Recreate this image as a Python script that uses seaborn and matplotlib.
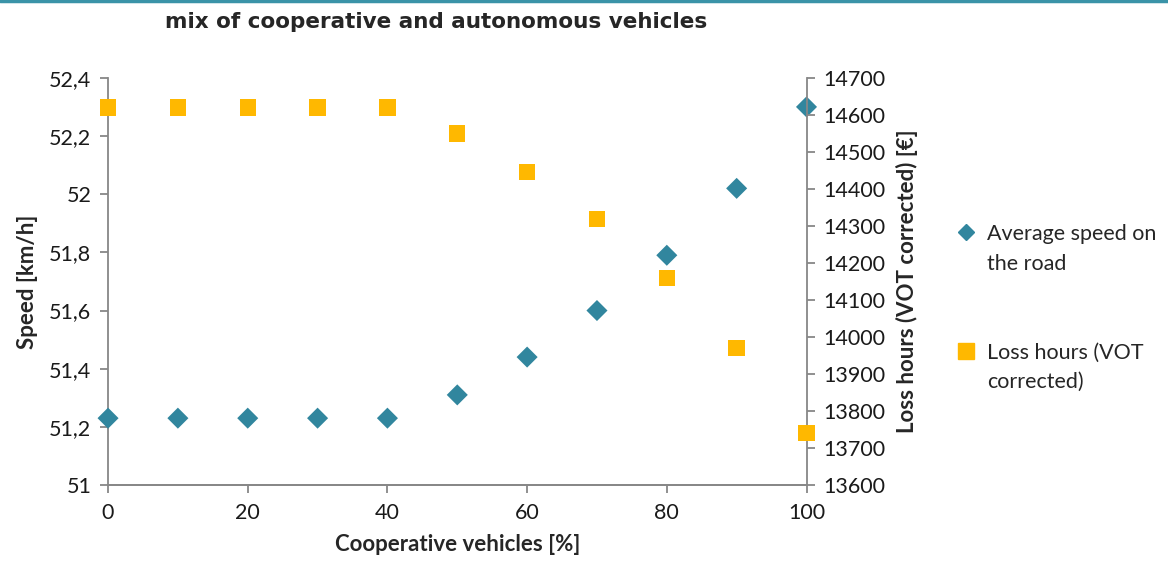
import numpy as np
import pandas as pd
import matplotlib
matplotlib.use('Agg')
import matplotlib.pyplot as plt
from matplotlib.ticker import FuncFormatter, MultipleLocator
from matplotlib.lines import Line2D
import seaborn as sns

# data
coop_share = [0, 10, 20, 30, 40, 50, 60, 70, 80, 90, 100]
avg_speed = [51.23, 51.23, 51.23, 51.23, 51.23, 51.31, 51.44, 51.60, 51.79, 52.02, 52.30]
loss_hours = [14620, 14620, 14620, 14620, 14620, 14550, 14445, 14318, 14160, 13970, 13740]

speed_label = ['Average speed on', 'the road']
loss_label = ['Loss hours (VOT', 'corrected)']

TEAL = '#31869E'
ORANGE = '#FFB800'
GREY = '#878787'

sns.set_theme(style='white')
plt.rcParams['font.family'] = ['Lato', 'DejaVu Sans']

df = pd.DataFrame({'coop': coop_share, 'speed': avg_speed, 'loss': loss_hours})

fig = plt.figure(figsize=(11.68, 5.68), dpi=100)
ax = fig.add_axes([0.0925, 0.146, 0.598, 0.717])
ax2 = ax.twinx()

sns.scatterplot(data=df, x='coop', y='speed', ax=ax, marker='D', s=115,
                color=TEAL, edgecolor='none', zorder=3, clip_on=False)
sns.scatterplot(data=df, x='coop', y='loss', ax=ax2, marker='s', s=140,
                color=ORANGE, edgecolor='none', zorder=3, clip_on=False)

comma = FuncFormatter(lambda v, p: f'{v:g}'.replace('.', ','))

ax.set_xlim(0, 100)
ax.set_ylim(51, 52.4)
ax.xaxis.set_major_locator(MultipleLocator(20))
ax.yaxis.set_major_locator(MultipleLocator(0.2))
ax.yaxis.set_major_formatter(comma)
ax2.set_ylim(13600, 14700)
ax2.yaxis.set_major_locator(MultipleLocator(100))

for a in (ax, ax2):
    for s in a.spines.values():
        s.set_color(GREY)
        s.set_linewidth(1.3)
    a.spines['top'].set_visible(False)
    a.tick_params(direction='out', length=6, width=1.3, color=GREY,
                  labelsize=15.5, labelcolor='#1a1a1a', pad=6)
ax2.spines['left'].set_visible(False)
ax.spines['right'].set_visible(False)
ax.tick_params(axis='x', pad=7)
ax.tick_params(left=True, bottom=True)
ax2.tick_params(right=True)

ax.set_xlabel('Cooperative vehicles [%]', fontsize=16, fontweight='bold', labelpad=8)
ax.set_ylabel('Speed [km/h]', fontsize=16, fontweight='bold', labelpad=8)
ax2.set_ylabel('Loss hours (VOT corrected) [€]', fontsize=16, fontweight='bold', labelpad=8)

fig.text(0.373, 0.962, 'mix of cooperative and autonomous vehicles', ha='center', va='center',
         fontsize=15.5, fontweight='bold', family='DejaVu Sans')

# thin coloured rule along the top edge
fig.add_artist(Line2D([0, 1], [0.998, 0.998], transform=fig.transFigure, color='#3A93A8', lw=2.5))

# legend: marker sits level with the first line of each label, like the Excel original
blank = Line2D([], [], linestyle='none')
handles = [
    Line2D([], [], marker='D', linestyle='none', color=TEAL, markersize=8.5),
    blank, blank, blank,
    Line2D([], [], marker='s', linestyle='none', color=ORANGE, markersize=11),
    blank,
]
labels = [speed_label[0], speed_label[1], ' ', ' ', loss_label[0], loss_label[1]]
leg = fig.legend(handles, labels, loc='upper left', bbox_to_anchor=(0.80, 0.64),
                 frameon=False, fontsize=15.5, labelspacing=0.45, handletextpad=0.43,
                 handlelength=1.1, alignment='left')

fig.savefig('out.png', dpi=100)
